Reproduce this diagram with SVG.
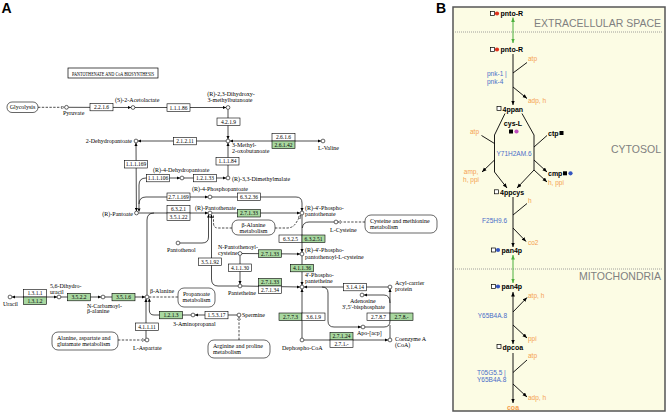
<svg xmlns="http://www.w3.org/2000/svg" width="667" height="414" viewBox="0 0 667 414">
<defs>
<marker id="k" viewBox="0 0 4 4" refX="4" refY="2" markerWidth="3.2" markerHeight="3.2" markerUnits="userSpaceOnUse" orient="auto-start-reverse"><path d="M0,0L4,2L0,4z" fill="#000"/></marker>
<marker id="ko" viewBox="0 0 5 5" refX="4.6" refY="2.5" markerWidth="3.6" markerHeight="3.6" markerUnits="userSpaceOnUse" orient="auto-start-reverse"><path d="M0.4,0.4L4.6,2.5L0.4,4.6z" fill="#fff" stroke="#000" stroke-width="0.6"/></marker>
<marker id="a" viewBox="0 0 6 6" refX="6" refY="3" markerWidth="4.5" markerHeight="4.5" markerUnits="userSpaceOnUse" orient="auto-start-reverse"><path d="M0,0.5L6,3L0,5.5z" fill="#000"/></marker>
<marker id="g" viewBox="0 0 6 6" refX="6" refY="3" markerWidth="4.5" markerHeight="4.5" markerUnits="userSpaceOnUse" orient="auto-start-reverse"><path d="M0,0.5L6,3L0,5.5z" fill="#4caf3c"/></marker>
</defs>
<style>
.l{stroke:#000;stroke-width:.7;fill:none}
.d{stroke:#000;stroke-width:.7;fill:none;stroke-dasharray:2.4,1.4}
.e rect{fill:#fff;stroke:#000;stroke-width:.6}
.eg rect{fill:#a8d8a0;stroke:#000;stroke-width:.6}
.e text,.eg text{font-family:"Liberation Serif",serif;font-size:5.5px;text-anchor:middle;fill:#000}
.c{fill:#fff;stroke:#000;stroke-width:.6}
.m rect{fill:#fff;stroke:#000;stroke-width:.6}
.t{font-family:"Liberation Serif",serif;font-size:6px;fill:#000}
.mid{text-anchor:middle}
.end{text-anchor:end}
.r{stroke:#000;stroke-width:.9;fill:none}
.gr{stroke:#4caf3c;stroke-width:1;fill:none}
.mb{font-family:"Liberation Sans",Arial,sans-serif;font-size:7px;font-weight:bold;fill:#000}
.or{font-family:"Liberation Sans",Arial,sans-serif;font-size:6.5px;fill:#f5a04e}
.bl{font-family:"Liberation Sans",Arial,sans-serif;font-size:6.5px;fill:#4a6cc8}
.cp{font-family:"Liberation Sans",Arial,sans-serif;font-size:10.5px;fill:#808080;text-anchor:end}
.sq{fill:#fff;stroke:#000;stroke-width:.7}
.lab{font-family:"Liberation Sans",Arial,sans-serif;font-size:14px;font-weight:bold;fill:#000}
</style>
<rect width="667" height="414" fill="#fff"/>
<text class="lab" x="1.5" y="13">A</text>
<text class="lab" x="436" y="13">B</text>

<!-- ===== Panel A: KEGG map ===== -->
<g id="title"><rect x="68" y="68" width="90" height="10" fill="#fff" stroke="#000" stroke-width=".7"/><text class="t" x="72" y="75.6" textLength="82" lengthAdjust="spacingAndGlyphs">PANTOTHENATE AND CoA BIOSYNTHESIS</text></g>

<g id="connectors">
<path class="d" d="M38,107.3H64.4" marker-end="url(#ko)"/>
<path class="l" d="M68.4,107.3L131.1,107.5" marker-end="url(#k)"/>
<path class="l" d="M134.9,107.5H226.1" marker-end="url(#k)"/>
<path class="l" d="M228,109.4V139.1" marker-end="url(#k)"/>
<path class="l" d="M226.1,141H137.9" marker-end="url(#k)"/>
<path class="l" d="M229.9,141H321.1" marker-start="url(#k)" marker-end="url(#k)"/>
<path class="l" d="M228,142.9V176.1" marker-start="url(#k)"/>
<path class="l" d="M183.9,178H226.1" marker-end="url(#k)"/>
<path class="l" d="M136,142.9L136.4,211.1" marker-start="url(#k)" marker-end="url(#k)"/>
<path class="l" d="M139,211.6V185Q139,178 146,178H180.1" marker-start="url(#k)" marker-end="url(#k)"/>
<path class="l" d="M139,204Q139,197 146,197H208.1" marker-end="url(#k)"/>
<path class="l" d="M211.9,197H296Q302,197 302,203V211.1" marker-end="url(#k)"/>
<path class="l" d="M138.4,213H208.1" marker-end="url(#k)"/>
<path class="l" d="M147,295.1V220Q147,213 154,213"/>
<path class="l" d="M211.9,213H300.1" marker-end="url(#k)"/>
<path class="d" d="M232,228H218Q213.5,228 213.5,223V215"/>
<path class="d" d="M275,228H287Q293,228 296,223L300.6,215.4" marker-end="url(#ko)"/>
<path class="l" d="M179.9,243H202Q208.5,243 208.5,237V214.4" marker-end="url(#k)"/>
<path class="l" d="M238.1,286H218Q211.5,286 211.5,279V214.6" marker-end="url(#k)"/>
<path class="l" d="M241.9,253.5L300.1,254" marker-end="url(#k)"/>
<path class="l" d="M302,214.9V252.1" marker-end="url(#k)"/>
<path class="l" d="M334.1,222H309Q303,222 302.3,228"/>
<path class="d" d="M365,222H337.9" marker-end="url(#ko)"/>
<path class="l" d="M240,255.4V284.1" marker-end="url(#k)"/>
<path class="l" d="M302,255.9V285.1" marker-end="url(#k)"/>
<path class="l" d="M241.9,286L300.1,287" marker-end="url(#k)"/>
<path class="l" d="M388.1,287H303.9" marker-end="url(#k)"/>
<path class="l" d="M322,287Q328,287 328,293V321Q328,327 334,327H361.1" marker-end="url(#k)"/>
<path class="l" d="M390,288.9V321Q390,327 384,327H364.9" marker-start="url(#k)"/>
<path class="l" d="M390,303Q390,295 384,295H363.9" marker-end="url(#k)"/>
<path class="l" d="M390,338.1V325"/>
<path class="l" d="M303.9,340H388.1" marker-end="url(#k)"/>
<path class="l" d="M302,338.1V288.9" marker-end="url(#k)"/>
<path class="l" d="M11.9,297H57.1" marker-start="url(#k)" marker-end="url(#k)"/>
<path class="l" d="M60.9,297H101.1" marker-end="url(#k)"/>
<path class="l" d="M104.9,297H145.1" marker-end="url(#k)"/>
<path class="d" d="M148.9,297H178"/>
<path class="l" d="M191.1,315H154Q149.3,315 149.3,310V298.6" marker-end="url(#k)"/>
<path class="l" d="M237.1,315H194.9" marker-end="url(#k)"/>
<path class="d" d="M239,340V316.9" marker-end="url(#ko)"/>
<path class="d" d="M118,340H145.1" marker-end="url(#ko)"/>
<path class="l" d="M146,338.2V298.7" marker-end="url(#k)"/>
</g>

<g id="e1" class="e"><rect x="90" y="103.3" width="23" height="7.5"/><text x="101.5" y="109">2.2.1.6</text></g>
<g id="e2" class="e"><rect x="167" y="103.8" width="23" height="7.5"/><text x="178.5" y="109.5">1.1.1.86</text></g>
<g id="e3" class="e"><rect x="217" y="118" width="23" height="7.5"/><text x="228.5" y="123.7">4.2.1.9</text></g>
<g id="e4" class="e"><rect x="173.5" y="137.3" width="23" height="7.5"/><text x="185" y="143">2.1.2.11</text></g>
<g id="e5" class="e"><rect x="272" y="133.5" width="23" height="7.5"/><text x="283.5" y="139.2">2.6.1.6</text></g>
<g id="e6" class="eg"><rect x="272" y="141" width="23" height="7.5"/><text x="283.5" y="146.7">2.6.1.42</text></g>
<g id="e7" class="e"><rect x="216" y="157.5" width="23" height="7.5"/><text x="227.5" y="163.2">1.1.1.84</text></g>
<g id="e8" class="e"><rect x="124.5" y="160.5" width="23" height="7.5"/><text x="136" y="166.2">1.1.1.169</text></g>
<g id="e9" class="e"><rect x="146.5" y="174.3" width="23" height="7.5"/><text x="158" y="180">1.1.1.106</text></g>
<g id="e10" class="e"><rect x="193.5" y="174.3" width="23" height="7.5"/><text x="205" y="180">1.2.1.33</text></g>
<g id="e11" class="e"><rect x="167" y="193" width="23" height="7.5"/><text x="178.5" y="198.7">2.7.1.169</text></g>
<g id="e12" class="e"><rect x="237.5" y="193" width="23" height="7.5"/><text x="249" y="198.7">6.3.2.36</text></g>
<g id="e13" class="e"><rect x="167" y="205.5" width="23" height="7.5"/><text x="178.5" y="211.2">6.3.2.1</text></g>
<g id="e14" class="e"><rect x="167" y="213" width="23" height="7.5"/><text x="178.5" y="218.7">3.5.1.22</text></g>
<g id="e15" class="eg"><rect x="237.5" y="209.5" width="23" height="7.5"/><text x="249" y="215.2">2.7.1.33</text></g>
<g id="e16" class="e"><rect x="279" y="235" width="23" height="7.5"/><text x="290.5" y="240.7">6.3.2.5</text></g>
<g id="e17" class="eg"><rect x="302" y="235" width="23" height="7.5"/><text x="313.5" y="240.7">6.3.2.51</text></g>
<g id="e18" class="e"><rect x="198.5" y="258" width="23" height="7.5"/><text x="210" y="263.7">3.5.1.92</text></g>
<g id="e19" class="eg"><rect x="258.5" y="249.8" width="23" height="7.5"/><text x="270" y="255.5">2.7.1.33</text></g>
<g id="e20" class="e"><rect x="228.5" y="264" width="23" height="7.5"/><text x="240" y="269.7">4.1.1.30</text></g>
<g id="e21" class="eg"><rect x="290.5" y="264.3" width="23" height="7.5"/><text x="302" y="270">4.1.1.36</text></g>
<g id="e22" class="eg"><rect x="258.5" y="278.5" width="23" height="7.5"/><text x="270" y="284.2">2.7.1.33</text></g>
<g id="e23" class="e"><rect x="258.5" y="286" width="23" height="7.5"/><text x="270" y="291.7">2.7.1.34</text></g>
<g id="e24" class="e"><rect x="343.5" y="283.3" width="23" height="7.5"/><text x="355" y="289">3.1.4.14</text></g>
<g id="e25" class="e"><rect x="367" y="313" width="23" height="7.5"/><text x="378.5" y="318.7">2.7.8.7</text></g>
<g id="e26" class="eg"><rect x="390" y="313" width="23" height="7.5"/><text x="401.5" y="318.7">2.7.8.-</text></g>
<g id="e27" class="eg"><rect x="279" y="313" width="23" height="7.5"/><text x="290.5" y="318.7">2.7.7.3</text></g>
<g id="e28" class="e"><rect x="302" y="313" width="23" height="7.5"/><text x="313.5" y="318.7">3.6.1.9</text></g>
<g id="e29" class="eg"><rect x="330" y="332.5" width="23" height="7.5"/><text x="341.5" y="338.2">2.7.1.24</text></g>
<g id="e30" class="e"><rect x="330" y="340" width="23" height="7.5"/><text x="341.5" y="345.7">2.7.1.-</text></g>
<g id="e31" class="eg"><rect x="159.5" y="311.3" width="23" height="7.5"/><text x="171" y="317">1.2.1.3</text></g>
<g id="e32" class="e"><rect x="205" y="311.3" width="23" height="7.5"/><text x="216.5" y="317">1.5.3.17</text></g>
<g id="e33" class="e"><rect x="23.5" y="289.5" width="23" height="7.5"/><text x="35" y="295.2">1.3.1.1</text></g>
<g id="e34" class="eg"><rect x="23.5" y="297" width="23" height="7.5"/><text x="35" y="302.7">1.3.1.2</text></g>
<g id="e35" class="eg"><rect x="67.5" y="293.3" width="23" height="7.5"/><text x="79" y="299">3.5.2.2</text></g>
<g id="e36" class="eg"><rect x="112" y="293.3" width="23" height="7.5"/><text x="123.5" y="299">3.5.1.6</text></g>
<g id="e37" class="e"><rect x="135.5" y="323" width="23" height="7.5"/><text x="147" y="328.7">4.1.1.11</text></g>

<g id="m1" class="m"><rect x="7" y="102" width="31" height="10.5" rx="5"/><text class="t mid" x="22.5" y="109.2">Glycolysis</text></g>
<g id="m2" class="m"><rect x="232" y="220" width="43" height="15" rx="6"/><text class="t mid" x="253.5" y="226.5">β-Alanine</text><text class="t mid" x="253.5" y="232.5">metabolism</text></g>
<g id="m3" class="m"><rect x="365" y="215" width="72" height="18" rx="6"/><text class="t" x="370" y="222.5">Cysteine and methionine</text><text class="t" x="370" y="229">metabolism</text></g>
<g id="m4" class="m"><rect x="178" y="288" width="37" height="19" rx="6"/><text class="t mid" x="196.5" y="296">Propanoate</text><text class="t mid" x="196.5" y="302">metabolism</text></g>
<g id="m5" class="m"><rect x="208" y="340" width="62" height="18" rx="6"/><text class="t" x="213" y="347.5">Arginine and proline</text><text class="t" x="213" y="353.5">metabolism</text></g>
<g id="m6" class="m"><rect x="52" y="332" width="66" height="18" rx="6"/><text class="t" x="57" y="339.5">Alanine, aspartate and</text><text class="t" x="57" y="345.5">glutamate metabolism</text></g>

<g id="c_pyr"><circle class="c" cx="66.5" cy="107.3" r="1.9"/><text class="t" x="63" y="115">Pyruvate</text></g>
<g id="c_acet"><circle class="c" cx="133" cy="107.5" r="1.9"/><text class="t" x="115" y="101.5">(S)-2-Acetolactate</text></g>
<g id="c_dih"><circle class="c" cx="228" cy="107.5" r="1.9"/><text class="t mid" x="231" y="96">(R)-2,3-Dihydroxy-</text><text class="t mid" x="230" y="102">3-methylbutanoate</text></g>
<g id="c_3m2o"><circle class="c" cx="228" cy="141" r="1.9"/><text class="t" x="232" y="147">3-Methyl-</text><text class="t" x="232" y="153">2-oxobutanoate</text></g>
<g id="c_2dhp"><circle class="c" cx="136" cy="141" r="1.9"/><text class="t end" x="132" y="143">2-Dehydropantoate</text></g>
<g id="c_val"><circle class="c" cx="323" cy="141" r="1.9"/><text class="t" x="318" y="149.5">L-Valine</text></g>
<g id="c_4dhp"><circle class="c" cx="182" cy="178" r="1.9"/><text class="t" x="153" y="172">(R)-4-Dehydropantoate</text></g>
<g id="c_dmm"><circle class="c" cx="228" cy="178" r="1.9"/><text class="t" x="232" y="180.5">(R)-3,3-Dimethylmalate</text></g>
<g id="c_pan"><circle class="c" cx="136.5" cy="213" r="1.9"/><text class="t end" x="133" y="215.5">(R)-Pantoate</text></g>
<g id="c_4pp"><circle class="c" cx="210" cy="197" r="1.9"/><text class="t" x="192" y="191">(R)-4-Phosphopantoate</text></g>
<g id="c_pt"><circle class="c" cx="210" cy="213" r="1.9"/><text class="t" x="195" y="209.5">(R)-Pantothenate</text></g>
<g id="c_4ppt"><circle class="c" cx="302" cy="213" r="1.9"/><text class="t" x="305" y="210">(R)-4'-Phospho-</text><text class="t" x="305" y="216">pantothenate</text></g>
<g id="c_cys"><circle class="c" cx="336" cy="222" r="1.9"/><text class="t" x="330" y="232">L-Cysteine</text></g>
<g id="c_4ppc"><circle class="c" cx="302" cy="254" r="1.9"/><text class="t" x="305" y="252">(R)-4'-Phospho-</text><text class="t" x="305" y="258.5">pantothenoyl-L-cysteine</text></g>
<g id="c_npc"><circle class="c" cx="240" cy="253.5" r="1.9"/><text class="t" x="218" y="249">N-Pantothenoyl-</text><text class="t" x="218" y="255">cysteine</text></g>
<g id="c_ptol"><circle class="c" cx="178" cy="243" r="1.9"/><text class="t" x="167" y="251.5">Pantothenol</text></g>
<g id="c_ptn"><circle class="c" cx="240" cy="286" r="1.9"/><text class="t" x="228" y="295">Pantetheine</text></g>
<g id="c_4pptn"><circle class="c" cx="302" cy="287" r="1.9"/><text class="t" x="305" y="277">4'-Phospho-</text><text class="t" x="305" y="283">pantetheine</text></g>
<g id="c_acp"><circle class="c" cx="390" cy="287" r="1.9"/><text class="t" x="395" y="285">Acyl-carrier</text><text class="t" x="395" y="291">protein</text></g>
<g id="c_ado"><circle class="c" cx="362" cy="295" r="1.9"/><text class="t" x="350" y="303">Adenosine</text><text class="t" x="342" y="309">3',5'-bisphosphate</text></g>
<g id="c_apo"><circle class="c" cx="363" cy="327" r="1.9"/><text class="t" x="357" y="335">Apo-[acp]</text></g>
<g id="c_coa"><circle class="c" cx="390" cy="340" r="1.9"/><text class="t" x="395" y="341">Coenzyme A</text><text class="t" x="395" y="346.5">(CoA)</text></g>
<g id="c_dpc"><circle class="c" cx="302" cy="340" r="1.9"/><text class="t" x="282" y="350">Dephospho-CoA</text></g>
<g id="c_ura"><circle class="c" cx="10" cy="297" r="1.9"/><text class="t" x="3" y="305.5">Uracil</text></g>
<g id="c_dhu"><circle class="c" cx="59" cy="297" r="1.9"/><text class="t" x="50" y="288">5,6-Dihydro-</text><text class="t" x="50" y="293.5">uracil</text></g>
<g id="c_ncb"><circle class="c" cx="103" cy="297" r="1.9"/><text class="t" x="87" y="307.5">N-Carbamoyl-</text><text class="t" x="87" y="313">β-alanine</text></g>
<g id="c_bala"><circle class="c" cx="147" cy="297" r="1.9"/><text class="t" x="150" y="293">β-Alanine</text></g>
<g id="c_3ap"><circle class="c" cx="193" cy="315" r="1.9"/><text class="t" x="173" y="325.5">3-Aminopropanal</text></g>
<g id="c_spm"><circle class="c" cx="239" cy="315" r="1.9"/><text class="t" x="242" y="317">Spermine</text></g>
<g id="c_asp"><circle class="c" cx="147" cy="340" r="1.9"/><text class="t" x="133" y="349.5">L-Aspartate</text></g>

<!-- ===== Panel B ===== -->
<g id="panelB">
<rect x="453" y="7" width="212" height="404" fill="#fcfce4" stroke="#555" stroke-width="1.5"/>
<path d="M455,32H662M455,269H662" stroke="#888" stroke-width=".8" stroke-dasharray="1,1" fill="none"/>
<text class="cp" x="661" y="27">EXTRACELLULAR SPACE</text>
<text class="cp" x="661" y="153">CYTOSOL</text>
<text class="cp" x="661" y="279.5">MITOCHONDRIA</text>
</g>

<g id="b_connectors">
<path class="gr" d="M513,17.5V43" marker-start="url(#g)" marker-end="url(#g)"/>
<path class="r" d="M513,54V105" marker-end="url(#a)"/>
<path class="r" d="M527,62.5L513,73"/>
<path class="r" d="M513,87L527,98.5" marker-end="url(#a)"/>
<path class="r" d="M505,113.5L494.5,135V172M522,113.5L534,135V170"/>
<path class="r" d="M481.5,135.5L494.5,143.5"/>
<path class="r" d="M494.5,160L482,172" marker-end="url(#a)"/>
<path class="r" d="M494.5,172L507,188" marker-end="url(#a)"/>
<path class="r" d="M547,135.5L534,147"/>
<path class="r" d="M534,160L547,172" marker-end="url(#a)"/>
<path class="r" d="M534,170L547,182" marker-end="url(#a)"/>
<path class="r" d="M534,170L517,188" marker-end="url(#a)"/>
<path class="r" d="M513,197V247" marker-end="url(#a)"/>
<path class="r" d="M527,203.5L513,215"/>
<path class="r" d="M513,228L526,241.5" marker-end="url(#a)"/>
<path class="gr" d="M513,255V283" marker-start="url(#g)" marker-end="url(#g)"/>
<path class="r" d="M513,292V344" marker-start="url(#a)" marker-end="url(#a)"/>
<path class="r" d="M513,312L527,297.5" marker-end="url(#a)"/>
<path class="r" d="M513,325L527,338" marker-end="url(#a)"/>
<path class="r" d="M513,353V403" marker-end="url(#a)"/>
<path class="r" d="M527,360L513,372.5"/>
<path class="r" d="M513,384L527,397" marker-end="url(#a)"/>
</g>

<g id="b_pntoR_ext"><rect class="sq" x="490.5" y="11.5" width="4" height="4"/><circle cx="497" cy="13.5" r="2.1" fill="#e0321e"/><text class="mb" x="500.5" y="16">pnto-R</text></g>
<g id="b_pntoR"><rect class="sq" x="490.5" y="47.5" width="4" height="4"/><circle cx="497" cy="49.5" r="2.1" fill="#e0321e"/><text class="mb" x="500.5" y="52">pnto-R</text></g>
<g id="b_4ppan"><rect class="sq" x="497" y="106.5" width="4" height="4"/><text class="mb" x="502.5" y="112">4ppan</text></g>
<g id="b_cysL"><text class="mb mid" x="513" y="126">cys-L</text><rect x="509" y="129.5" width="4" height="4" fill="#000"/><circle cx="516.5" cy="131.5" r="2.1" fill="#c04fc0"/></g>
<g id="b_ctp"><text class="mb" x="548" y="135.5">ctp</text><rect x="559.5" y="131" width="4" height="4" fill="#000"/></g>
<g id="b_cmp"><text class="mb" x="548" y="175.5">cmp</text><rect x="563" y="171.3" width="4" height="4" fill="#000"/><circle cx="570.5" cy="173.3" r="2.1" fill="#3555c0"/></g>
<g id="b_4ppcys"><rect class="sq" x="494.5" y="189.8" width="4" height="4"/><text class="mb" x="500" y="195.3">4ppcys</text></g>
<g id="b_pan4p_c"><rect class="sq" x="491.5" y="248" width="4" height="4"/><circle cx="498" cy="250" r="2.1" fill="#3555c0"/><text class="mb" x="501.5" y="252.5">pan4p</text></g>
<g id="b_pan4p_m"><rect class="sq" x="491.5" y="284.5" width="4" height="4"/><circle cx="498" cy="286.5" r="2.1" fill="#3555c0"/><text class="mb" x="501.5" y="289">pan4p</text></g>
<g id="b_dpcoa"><rect class="sq" x="497" y="344.5" width="4" height="4"/><text class="mb" x="502.5" y="350">dpcoa</text></g>
<g id="b_coa"><text class="mb mid" x="513" y="409.5" style="fill:#f5a04e">coa</text></g>

<g id="b_side">
<text class="or" x="528" y="61">atp</text>
<text class="or" x="528" y="102.5">adp, h</text>
<text class="or" x="470" y="134">atp</text>
<text class="or mid" x="471" y="174">amp,</text>
<text class="or mid" x="471" y="181.5">h, ppi</text>
<text class="or" x="548" y="184.5">h, ppi</text>
<text class="or" x="528" y="202.5">h</text>
<text class="or" x="528" y="244.5">co2</text>
<text class="or" x="528" y="297.5">atp, h</text>
<text class="or" x="528" y="340.5">ppi</text>
<text class="or" x="528" y="357.5">atp</text>
<text class="or" x="528" y="399.5">adp, h</text>
</g>
<g id="b_genes">
<text class="bl" x="487" y="76">pnk-1 |</text>
<text class="bl" x="487" y="83.5">pnk-4</text>
<text class="bl mid" x="514" y="155.5">Y71H2AM.6</text>
<text class="bl end" x="507" y="222.5">F25H9.6</text>
<text class="bl end" x="507" y="318">Y65B4A.8</text>
<text class="bl" x="477" y="374.5">T05G5.5 |</text>
<text class="bl" x="477" y="382">Y65B4A.8</text>
</g>
</svg>
